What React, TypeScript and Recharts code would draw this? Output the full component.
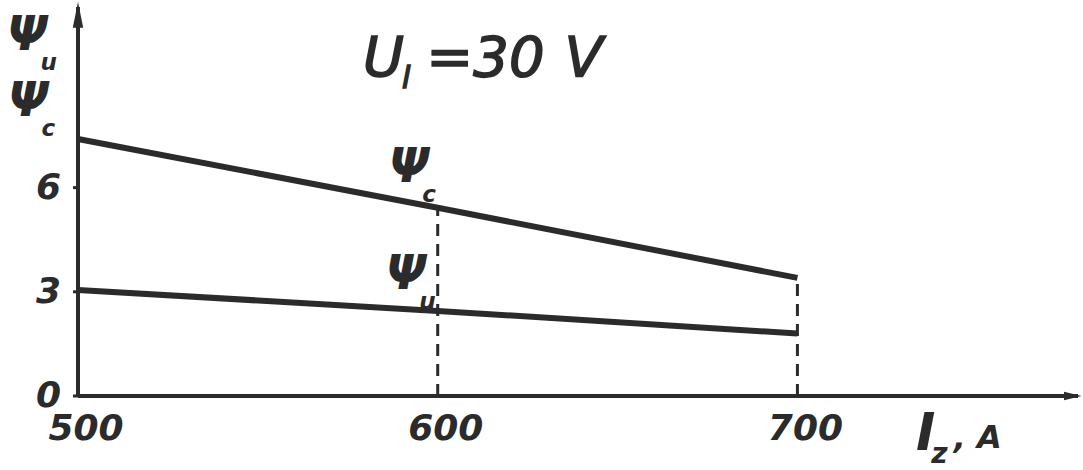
import { LineChart, Line, XAxis, YAxis, ReferenceLine, ReferenceDot, Customized } from "recharts";

// I_z in amperes
const currents = [500, 600, 700];
// efficiency curves
const psiC = [7.4, 5.42, 3.4];
const psiU = [3.05, 2.45, 1.8];
const xTicks = [500, 600, 700];
const yTicks = [0, 3, 6];

const data = currents.map((i, k) => ({ i, c: psiC[k], u: psiU[k] }));

const INK = "#2b2b2b";
const FONT = "'DejaVu Sans', sans-serif";

function XTick({ x, y, payload }: any) {
  return (
    <text x={x + 8} y={y + 36} textAnchor="middle" fontFamily={FONT} fontWeight="bold"
      fontStyle="italic" fontSize={36} fill={INK}>
      {payload.value}
    </text>
  );
}

function YTick({ x, y, payload }: any) {
  return (
    <text x={x - 10} y={y + 11} textAnchor="end" fontFamily={FONT} fontWeight="bold"
      fontStyle="italic" fontSize={36} fill={INK}>
      {payload.value}
    </text>
  );
}

// Ψ with a subscript tucked under its right arm; x is the left edge
function Psi({ x, y, sub, size = 48 }: { x: number; y: number; sub: string; size?: number }) {
  return (
    <text x={x} y={y} fontFamily={FONT} fontWeight="bold" fontStyle="italic" fill={INK} fontSize={size}>
      Ψ
      <tspan dx={-size * 0.15} dy={size * 0.42} fontSize={size * 0.48}>{sub}</tspan>
    </text>
  );
}

function Annotations() {
  return (
    <g fill={INK}>
      <Psi x={7} y={50} sub="u" />
      <Psi x={8} y={116} sub="c" />
      <text x={363} y={76} fontFamily={FONT} fontStyle="italic" fontSize={56} stroke={INK} strokeWidth={1.5}>
        U
        <tspan dx={-2} dy={12} fontSize={30}>l</tspan>
        <tspan dx={16} dy={-12}>=30</tspan>
        <tspan dx={20}>V</tspan>
      </text>
      <text x={916} y={450} fontFamily={FONT} fontStyle="italic" fontWeight="bold" fontSize={52}>
        I
        <tspan dx={-4} dy={13} fontSize={28}>z</tspan>
        <tspan dx={6} dy={-15} fontSize={32}>, A</tspan>
      </text>
    </g>
  );
}

export default function App() {
  return (
    <div style={{ position: "absolute", left: 0, top: 0, width: 1083, height: 470, background: "#fff" }}>
      <LineChart width={1083} height={470} data={data} margin={{ top: 7, right: 5, left: 0, bottom: 44 }}>
        <defs>
          <marker id="arrowY" viewBox="0 0 10 10" refX="8" refY="5" markerWidth="26" markerHeight="26"
            orient="auto-start-reverse" markerUnits="userSpaceOnUse">
            <path d="M0,3 L10,5 L0,7 z" fill={INK} />
          </marker>
          <marker id="arrowX" viewBox="0 0 10 10" refX="8" refY="5" markerWidth="18" markerHeight="18"
            orient="auto-start-reverse" markerUnits="userSpaceOnUse">
            <path d="M0,2.6 L10,5 L0,7.4 z" fill={INK} />
          </marker>
        </defs>
        <XAxis dataKey="i" type="number" domain={[500, 778]} ticks={xTicks} tick={<XTick />}
          tickLine={false} axisLine={{ stroke: INK, strokeWidth: 4, markerEnd: "url(#arrowX)" }} />
        <YAxis type="number" domain={[0, 11.2]} ticks={yTicks} width={78} tick={<YTick />}
          tickSize={5} tickLine={{ stroke: INK, strokeWidth: 3 }}
          axisLine={{ stroke: INK, strokeWidth: 4, markerStart: "url(#arrowY)" }} />
        <ReferenceLine segment={[{ x: 600, y: 0 }, { x: 600, y: psiC[1] }]} stroke={INK}
          strokeWidth={3} strokeDasharray="12 8" />
        <ReferenceLine segment={[{ x: 700, y: 0 }, { x: 700, y: psiC[2] }]} stroke={INK}
          strokeWidth={3} strokeDasharray="12 8" />
        <Line type="linear" dataKey="c" stroke={INK} strokeWidth={6} dot={false} isAnimationActive={false} />
        <Line type="linear" dataKey="u" stroke={INK} strokeWidth={6} dot={false} isAnimationActive={false} />
        <ReferenceDot x={600} y={psiC[1]} r={0}
          shape={(p: any) => <Psi x={p.cx - 49} y={p.cy - 26} sub="c" />} />
        <ReferenceDot x={600} y={psiU[1]} r={0}
          shape={(p: any) => <Psi x={p.cx - 52} y={p.cy - 22} sub="u" />} />
        <Customized component={Annotations} />
      </LineChart>
    </div>
  );
}
